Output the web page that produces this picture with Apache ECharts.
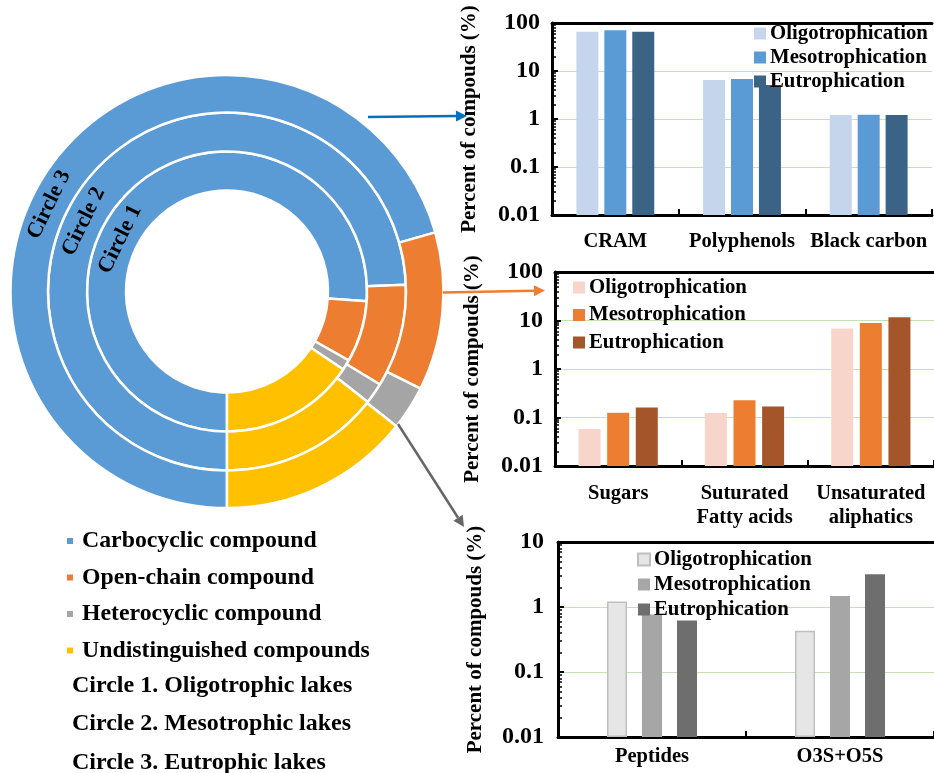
<!DOCTYPE html>
<html><head><meta charset="utf-8">
<script src="https://cdn.jsdelivr.net/npm/echarts@6/dist/echarts.min.js"></script>
<style>html,body{margin:0;padding:0;background:#fff}#c{width:934px;height:773px}</style>
</head><body><div id="c"></div>
<script>
// ---------- data ----------
const seriesNames = ['Oligotrophication', 'Mesotrophication', 'Eutrophication'];

const categories1 = ['CRAM', 'Polyphenols', 'Black carbon'];
const oligo1 = [66, 6.5, 1.21];
const meso1  = [70.5, 6.8, 1.22];
const eutro1 = [66, 5.1, 1.21];

const categories2 = ['Sugars', 'Suturated\nFatty acids', 'Unsaturated\naliphatics'];
const oligo2 = [0.058, 0.124, 6.8];
const meso2  = [0.126, 0.226, 8.9];
const eutro2 = [0.16, 0.168, 11.6];

const categories3 = ['Peptides', 'O3S+O5S'];
const oligo3 = [1.22, 0.43];
const meso3  = [0.77, 1.48];
const eutro3 = [0.62, 3.18];

const yTicks12 = ['0.01', '0.1', '1', '10', '100'];
const yTicks3  = ['0.01', '0.1', '1', '10'];

const compoundClasses = ['Carbocyclic compound', 'Open-chain compound', 'Heterocyclic compound', 'Undistinguished compounds'];
const circle1 = [76.1, 7.1, 1.2, 15.6];
const circle2 = [74.4, 9.3, 1.9, 14.4];
const circle3 = [70.6, 11.8, 3.3, 14.3];
const circleNames = ['Circle 1', 'Circle 2', 'Circle 3'];
const circleNotes = ['Circle 1. Oligotrophic lakes', 'Circle 2. Mesotrophic lakes', 'Circle 3. Eutrophic lakes'];

// ---------- styles ----------
const FONT = '"Liberation Serif","Times New Roman",serif';
const pieColors = ['#5B9BD5', '#ED7D31', '#A5A5A5', '#FFC000'];
const blueSet = ['#C5D6EC', '#5B9BD5', '#3B6386'];
const orangeSet = ['#F8D5CB', '#ED7D31', '#A4552A'];
const graySet = ['#E6E6E6', '#A6A6A6', '#6E6E6E'];

const chart = echarts.init(document.getElementById('c'));

function tickFmt(ticks) {
  return v => ticks[Math.round(Math.log10(v)) + 2];
}
// minor tick values (2..9 within each decade of the log axis)
function minorValues(ticks) {
  const out = [];
  for (let i = 0; i < ticks.length - 1; i++) {
    const base = parseFloat(ticks[i]);
    for (let k = 2; k <= 9; k++) out.push(+(base * k).toPrecision(3));
  }
  return out;
}
function yAxisCfg(gi, max, ticks, margin) {
  return {
    type: 'log', logBase: 10, min: 0.01, max: max, startValue: 0.01, gridIndex: gi,
    axisLine: { show: true, lineStyle: { color: '#000', width: 3 } },
    axisTick: { show: true, inside: true, length: 6, lineStyle: { color: '#000', width: 2 } },
    splitLine: { show: true, lineStyle: { color: '#C5E0B4', width: 1.2 } },
    axisLabel: { fontSize: 24, fontWeight: 'bold', fontFamily: FONT, color: '#000', margin: margin, formatter: tickFmt(ticks) },
    name: 'Percent of compouds (%)', nameLocation: 'middle', nameRotate: 90, nameGap: 72,
    nameTextStyle: { fontSize: 21, fontWeight: 'bold', fontFamily: FONT, color: '#000' }
  };
}
function yMinorCfg(gi, max, ticks) {
  const mv = minorValues(ticks);
  return {
    type: 'log', logBase: 10, min: 0.01, max: max, gridIndex: gi, position: 'left', offset: 0,
    axisLine: { show: true, onZero: false, lineStyle: { color: 'rgba(0,0,0,0)', width: 0 } },
    axisTick: { show: true, inside: true, length: 4, customValues: mv, lineStyle: { color: '#000', width: 1.5 } },
    axisLabel: { show: true, customValues: mv, formatter: () => '' }, splitLine: { show: false }
  };
}
function xAxisCfg(gi, data, margin) {
  return {
    type: 'category', gridIndex: gi, data: data, position: 'bottom',
    axisLine: { onZero: false, lineStyle: { color: '#000', width: 3 } },
    axisTick: { show: true, inside: true, length: 6, lineStyle: { color: '#000', width: 2 } },
    axisLabel: { interval: 0, fontSize: 20.5, fontWeight: 'bold', fontFamily: FONT, color: '#000', margin: margin, lineHeight: 24 },
    splitLine: { show: false }
  };
}
function xTopCfg(gi, data) {
  return {
    type: 'category', gridIndex: gi, data: data, position: 'top',
    axisLine: { onZero: false, lineStyle: { color: '#000', width: 3 } },
    axisTick: { show: false }, axisLabel: { show: false }, splitLine: { show: false }
  };
}
function barSeries(prefix, gi, name, data, color, barWidth, barGap, border) {
  return {
    type: 'bar', name: prefix + '|' + name, xAxisIndex: gi * 2, yAxisIndex: gi, data: data,
    barWidth: barWidth, barGap: barGap,
    itemStyle: border ? { color: color, borderColor: '#BFBFBF', borderWidth: 1.5 } : { color: color },
    emphasis: { disabled: true }
  };
}
function barLegend(prefix, left, top, gap) {
  return {
    data: seriesNames.map(n => prefix + '|' + n), orient: 'vertical', left: left, top: top, padding: 0,
    itemWidth: 12, itemHeight: 12, itemGap: gap, icon: 'rect', selectedMode: false,
    formatter: n => n.split('|')[1],
    textStyle: { fontSize: 20.8, fontWeight: 'bold', fontFamily: FONT, color: '#000', lineHeight: 20, padding: [0, 0, 0, -1] }
  };
}
function pieSeries(name, data, rIn, rOut) {
  return {
    type: 'pie', name: name, center: [227, 291.5], radius: [rIn, rOut], startAngle: 270, clockwise: true,
    label: { show: false }, labelLine: { show: false }, silent: true,
    itemStyle: { borderColor: '#fff', borderWidth: 2.5 },
    data: compoundClasses.map((c, i) => ({ name: c, value: data[i], itemStyle: { color: pieColors[i] } }))
  };
}
function arrow(x1, y1, x2, y2, color, w) {
  const a = Math.atan2(y2 - y1, x2 - x1), L = 11, H = 5.5;
  const bx = x2 - L * Math.cos(a), by = y2 - L * Math.sin(a);
  return [
    { type: 'line', z: 100, shape: { x1: x1, y1: y1, x2: bx, y2: by }, style: { stroke: color, lineWidth: w }, silent: true },
    { type: 'polygon', z: 100, shape: { points: [[x2, y2], [bx + H * Math.sin(a), by - H * Math.cos(a)], [bx - H * Math.sin(a), by + H * Math.cos(a)]] }, style: { fill: color }, silent: true }
  ];
}

// ring labels along the left arcs
const cx = 227, cy = 291.5, labAng = 26 * Math.PI / 180;
const ringMid = [119, 159.5, 198];
const ringLabels = circleNames.map((t, i) => ({
  type: 'text', z: 100, x: cx - ringMid[i] * Math.cos(labAng), y: cy - ringMid[i] * Math.sin(labAng),
  rotation: Math.PI / 2 - labAng, silent: true,
  style: { text: t, fontSize: 22, fontWeight: 'bold', fontFamily: FONT, fill: '#000', align: 'center', verticalAlign: 'middle' }
}));
const noteTops = [674, 712, 751];
const notes = circleNotes.map((t, i) => ({
  type: 'text', z: 100, x: 72, y: noteTops[i], silent: true,
  style: { text: t, fontSize: 24, fontWeight: 'bold', fontFamily: FONT, fill: '#000' }
}));

const option = {
  animation: false,
  backgroundColor: '#fff',
  grid: [
    { left: 552, top: 23, width: 380, height: 192 },
    { left: 555, top: 272, width: 384, height: 194 },
    { left: 558, top: 542, width: 378, height: 195 }
  ],
  xAxis: [
    xAxisCfg(0, categories1, 15), xTopCfg(0, categories1),
    xAxisCfg(1, categories2, 16), xTopCfg(1, categories2),
    xAxisCfg(2, categories3, 8), xTopCfg(2, categories3)
  ],
  yAxis: [
    yAxisCfg(0, 100, yTicks12, 12),
    yAxisCfg(1, 100, yTicks12, 12),
    yAxisCfg(2, 10, yTicks3, 14),
    yMinorCfg(0, 100, yTicks12),
    yMinorCfg(1, 100, yTicks12),
    yMinorCfg(2, 10, yTicks3)
  ],
  legend: [
    barLegend('a', 754, 23, 3),
    barLegend('b', 573, 277, 6.5),
    barLegend('c', 637, 549, 4),
    {
      data: compoundClasses, orient: 'vertical', left: 65, top: 529, padding: 0, itemWidth: 8, itemHeight: 8, itemGap: 12.5,
      icon: 'rect', selectedMode: false,
      textStyle: { fontSize: 23.8, fontWeight: 'bold', fontFamily: FONT, color: '#000', lineHeight: 23.5, padding: [0, 0, 0, 3] }
    }
  ],
  series: [
    barSeries('a', 0, seriesNames[0], oligo1, blueSet[0], 22, '27%'),
    barSeries('a', 0, seriesNames[1], meso1, blueSet[1], 22, '27%'),
    barSeries('a', 0, seriesNames[2], eutro1, blueSet[2], 22, '27%'),
    barSeries('b', 1, seriesNames[0], oligo2, orangeSet[0], 22, '30%'),
    barSeries('b', 1, seriesNames[1], meso2, orangeSet[1], 22, '30%'),
    barSeries('b', 1, seriesNames[2], eutro2, orangeSet[2], 22, '30%'),
    barSeries('c', 2, seriesNames[0], oligo3, graySet[0], 20, '75%', true),
    barSeries('c', 2, seriesNames[1], meso3, graySet[1], 20, '75%'),
    barSeries('c', 2, seriesNames[2], eutro3, graySet[2], 20, '75%'),
    pieSeries(circleNames[0], circle1, 101, 140),
    pieSeries(circleNames[1], circle2, 140, 179),
    pieSeries(circleNames[2], circle3, 179, 216.5)
  ],
  graphic: [].concat(
    arrow(368, 117, 467, 116, '#0070C0', 2.5),
    arrow(443, 292.5, 545, 290.5, '#ED7D31', 2.5),
    arrow(398, 424, 464, 527, '#666666', 2.5),
    ringLabels, notes
  )
};
chart.setOption(option);
</script></body></html>
